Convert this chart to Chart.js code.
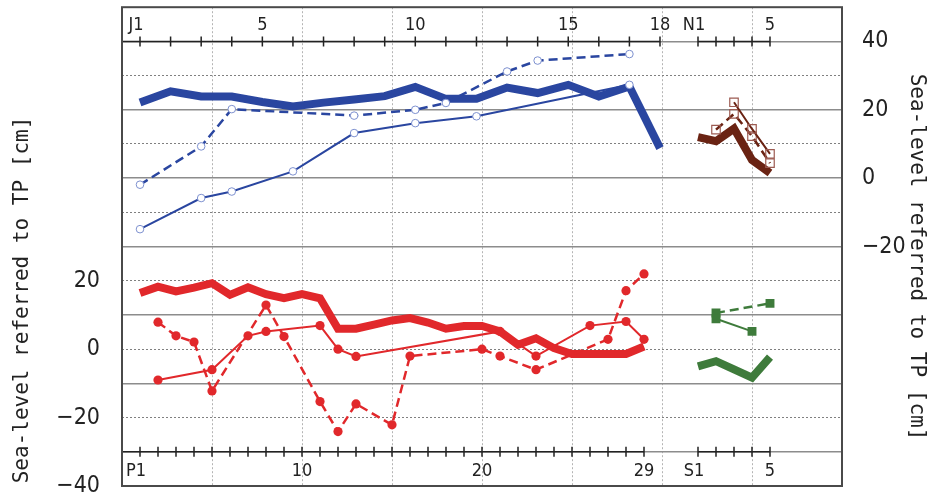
<!DOCTYPE html>
<html>
<head>
<meta charset="utf-8">
<script src="https://cdn.jsdelivr.net/npm/chart.js@4.4.0/dist/chart.umd.min.js"></script>
<style>
  html, body { margin: 0; padding: 0; background: #fff; }
</style>
</head>
<body>
<canvas id="seaChart" width="950" height="494"></canvas>
<script>
// upper panel: J stations (right axis)
const jDays = [1, 2, 3, 4, 5, 6, 7, 8, 9, 10, 11, 12, 13, 14, 15, 16, 17, 18];
const blueThick = [22.1, 25.4, 23.9, 23.9, 22.3, 21.0, 22.1, 23.0, 24.0, 26.7, 23.2, 23.2, 26.5, 24.9, 27.3, 23.9, 26.8, 8.8];
const blueDashDays = [1, 3, 4, 8, 10, 11, 13, 14, 17];
const blueDash = [-1.9, 9.3, 20.2, 18.3, 20.0, 22.0, 31.2, 34.4, 36.3];
const blueThinDays = [1, 3, 4, 6, 8, 10, 12, 17];
const blueThin = [-14.9, -5.8, -3.9, 2.0, 13.2, 16.1, 18.1, 27.3];

// upper panel: N stations (right axis)
const nDays = [1, 2, 3, 4, 5];
const brownThick = [12.0, 10.8, 14.5, 5.3, 1.5];
const brownThinDays = [3, 4, 5];
const brownThin = [22.2, 14.4, 7.1];
const brownDashDays = [2, 3, 4, 5];
const brownDash = [14.2, 18.8, 12.3, 4.4];

// lower panel: P stations (left axis)
const pDays = [1, 2, 3, 4, 5, 6, 7, 8, 9, 10, 11, 12, 13, 14, 15, 16, 17, 18, 19, 20, 21, 22, 23, 24, 25, 26, 27, 28, 29];
const redThick = [16.4, 18.3, 16.9, 18.0, 19.3, 15.9, 18.1, 16.1, 14.9, 16.1, 14.9, 6.0, 6.0, 7.2, 8.4, 9.1, 7.8, 6.0, 6.8, 6.8, 5.2, 1.3, 3.2, 0.3, -1.4, -1.4, -1.4, -1.4, 0.8];
const redThinDays = [2, 5, 7, 8, 11, 12, 13, 21, 23, 26, 28, 29];
const redThin = [-9.0, -6.0, 3.9, 5.2, 6.9, 0.0, -2.1, 5.2, -2.0, 6.9, 8.1, 2.9];
const redDashDays = [2, 3, 4, 5, 8, 9, 11, 12, 13, 15, 16, 20, 21, 23, 27, 28, 29];
const redDash = [7.9, 3.9, 2.1, -12.2, 12.9, 3.7, -15.3, -24.1, -16.0, -22.1, -2.0, 0.0, -2.0, -6.0, 2.9, 17.1, 22.0];

// lower panel: S stations (left axis)
const sDays = [1, 2, 3, 4, 5];
const greenThick = [-5.0, -3.5, -5.9, -8.3, -2.3];
const greenThinDays = [2, 4];
const greenThin = [8.9, 5.2];
const greenDashDays = [2, 5];
const greenDash = [10.6, 13.4];

// tick labels
const leftTicks = [20, 0, -20, -40];
const rightTicks = [40, 20, 0, -20];
const jLabelDays = [1, 5, 10, 15, 18];
const jLabels = ['J1', '5', '10', '15', '18'];
const nLabelDays = [1, 5];
const nLabels = ['N1', '5'];
const pLabelDays = [1, 10, 20, 29];
const pLabels = ['P1', '10', '20', '29'];
const sLabelDays = [1, 5];
const sLabels = ['S1', '5'];
const axisTitle = 'Sea-level referred to TP [cm]';

const BLUE = '#2a46a0', RED = '#e1282b', BROWN = '#6a2313', GREEN = '#3e7b3b';
const NARROW = "'Liberation Sans Narrow', 'Arial Narrow', 'DejaVu Sans Condensed', sans-serif";

const pts = (xs, ys) => xs.map((x, i) => ({ x: x, y: ys[i] }));
const minus = v => String(v).replace('-', '\u2212');

function series(xs, ys, xAxis, yAxis, color, kind, marker) {
  const ds = {
    data: pts(xs, ys),
    xAxisID: xAxis,
    yAxisID: yAxis,
    borderColor: color,
    backgroundColor: color,
    tension: 0,
    fill: false,
    order: 1,
    pointRadius: 0,
    pointHoverRadius: 0
  };
  if (kind === 'thick') {
    ds.borderWidth = 8;
    ds.order = 2;
  } else if (kind === 'dash') {
    ds.borderWidth = 2.5;
    ds.borderDash = [9, 5];
  } else {
    ds.borderWidth = 2;
  }
  if (marker === 'ocircle') {
    Object.assign(ds, { pointStyle: 'circle', pointRadius: 3.8, pointBorderWidth: 1, pointBorderColor: '#7d90cf', pointBackgroundColor: '#fff' });
  } else if (marker === 'dot') {
    Object.assign(ds, { pointStyle: 'circle', pointRadius: 4.6, pointBorderWidth: 0, pointBackgroundColor: color });
  } else if (marker === 'osquare') {
    Object.assign(ds, { pointStyle: 'rect', pointRadius: 6, pointBorderWidth: 1.2, pointBorderColor: '#9c5b52', pointBackgroundColor: 'rgba(255,255,255,0)' });
  } else if (marker === 'square') {
    Object.assign(ds, { pointStyle: 'rect', pointRadius: 6.3, pointBorderWidth: 0, pointBackgroundColor: color });
  }
  return ds;
}

function setTicks(values) {
  return scale => { scale.ticks = values.map(v => ({ value: v })); };
}

function fixWidth(w) {
  return scale => {
    scale.width = w;
    scale.paddingTop = 0;
    scale.paddingBottom = 0;
  };
}

// inner axes (J, N on top; P, S at bottom), frame and axis titles
const innerAxes = {
  id: 'innerAxes',
  beforeDatasetsDraw(chart) {
    const { ctx, chartArea, scales } = chart;
    const topY = scales.y.getPixelForValue(40);
    const botY = scales.y.getPixelForValue(-80);
    const draw = (xs, first, last, y, labelDays, labels, dy, fromEdge) => {
      ctx.save();
      ctx.strokeStyle = '#222';
      ctx.lineWidth = 1.5;
      ctx.beginPath();
      ctx.moveTo(fromEdge ? chartArea.left : xs.getPixelForValue(first), y);
      ctx.lineTo(xs.getPixelForValue(last), y);
      for (let d = first; d <= last; d++) {
        const x = xs.getPixelForValue(d);
        ctx.moveTo(x, y - 5);
        ctx.lineTo(x, y + 5);
      }
      ctx.stroke();
      ctx.fillStyle = '#222';
      ctx.font = '18px ' + NARROW;
      ctx.textAlign = 'center';
      ctx.textBaseline = 'middle';
      labelDays.forEach((d, i) => {
        ctx.fillText(labels[i], xs.getPixelForValue(d) - (i === 0 ? 4 : 0), y + dy);
      });
      ctx.restore();
    };
    draw(scales.xJ, 1, 18, topY, jLabelDays, jLabels, -16, true);
    draw(scales.xNS, 1, 5, topY, nLabelDays, nLabels, -16, false);
    draw(scales.xP, 1, 29, botY, pLabelDays, pLabels, 20, true);
    draw(scales.xNS, 1, 5, botY, sLabelDays, sLabels, 20, false);
  },
  afterDraw(chart) {
    const { ctx, chartArea } = chart;
    ctx.save();
    ctx.strokeStyle = '#4a4a4a';
    ctx.lineWidth = 2;
    ctx.strokeRect(chartArea.left, chartArea.top, chartArea.right - chartArea.left, chartArea.bottom - chartArea.top);
    ctx.fillStyle = '#222';
    ctx.font = "21px 'DejaVu Sans Mono', 'Liberation Mono', monospace";
    ctx.textAlign = 'center';
    ctx.textBaseline = 'middle';
    ctx.translate(23, 300);
    ctx.rotate(-Math.PI / 2);
    ctx.fillText(axisTitle, 0, 0);
    ctx.restore();
    ctx.save();
    ctx.fillStyle = '#222';
    ctx.font = "21px 'DejaVu Sans Mono', 'Liberation Mono', monospace";
    ctx.textAlign = 'center';
    ctx.textBaseline = 'middle';
    ctx.translate(916, 257);
    ctx.rotate(Math.PI / 2);
    ctx.fillText(axisTitle, 0, 0);
    ctx.restore();
  }
};

const hiddenX = (min, max) => ({ type: 'linear', display: false, min: min, max: max });

new Chart(document.getElementById('seaChart'), {
  type: 'line',
  data: {
    datasets: [
      series(jDays, blueThick, 'xJ', 'y', BLUE, 'thick', null),
      series(blueThinDays, blueThin, 'xJ', 'y', BLUE, 'thin', 'ocircle'),
      series(blueDashDays, blueDash, 'xJ', 'y', BLUE, 'dash', 'ocircle'),
      series(nDays, brownThick, 'xNS', 'y', BROWN, 'thick', null),
      series(brownThinDays, brownThin, 'xNS', 'y', BROWN, 'thin', 'osquare'),
      series(brownDashDays, brownDash, 'xNS', 'y', BROWN, 'dash', 'osquare'),
      series(pDays, redThick, 'xP', 'yL', RED, 'thick', null),
      series(redThinDays, redThin, 'xP', 'yL', RED, 'thin', 'dot'),
      series(redDashDays, redDash, 'xP', 'yL', RED, 'dash', 'dot'),
      series(sDays, greenThick, 'xNS', 'yL', GREEN, 'thick', null),
      series(greenThinDays, greenThin, 'xNS', 'yL', GREEN, 'thin', 'square'),
      series(greenDashDays, greenDash, 'xNS', 'yL', GREEN, 'dash', 'square')
    ]
  },
  options: {
    responsive: false,
    animation: false,
    layout: { padding: { top: 7, bottom: 8, left: 0, right: 0 } },
    plugins: { legend: { display: false }, tooltip: { enabled: false } },
    events: [],
    scales: {
      xJ: hiddenX(0.4115, 23.95),
      xP: hiddenX(0, 40),
      xNS: hiddenX(-31, 9),
      xg: {
        type: 'linear', position: 'bottom', min: 0, max: 8,
        afterBuildTicks: setTicks([1, 2, 3, 4, 5, 6, 7]),
        afterFit: s => { s.height = 0; s.paddingLeft = 0; s.paddingRight = 0; },
        ticks: { display: false },
        grid: { drawTicks: false, color: '#b4b4b4', lineWidth: 1, borderDash: [2, 2] },
        border: { display: false, dash: [2, 2] }
      },
      yDot: {
        type: 'linear', position: 'right', min: -90, max: 50,
        afterBuildTicks: setTicks([30, 10, -10, -30, -50, -70]),
        afterFit: fixWidth(0),
        ticks: { display: false },
        grid: { drawTicks: false, color: '#808080', lineWidth: 1, borderDash: [2, 2] },
        border: { display: false, dash: [2, 2] }
      },
      y: {
        type: 'linear', position: 'right', min: -90, max: 50,
        afterBuildTicks: setTicks([40, 20, 0, -20, -40, -60, -80]),
        afterFit: fixWidth(108),
        ticks: {
          padding: 20, color: '#222',
          font: { family: NARROW, size: 23 },
          callback: v => rightTicks.includes(v) ? minus(v) : ''
        },
        grid: { drawTicks: false, color: '#8c8c8c', lineWidth: 1.5 },
        border: { display: false }
      },
      yL: {
        type: 'linear', position: 'left', min: -40, max: 100,
        afterBuildTicks: setTicks(leftTicks),
        afterFit: fixWidth(122),
        ticks: {
          padding: 22, color: '#222',
          font: { family: NARROW, size: 23 },
          callback: v => minus(v)
        },
        grid: { drawTicks: false, drawOnChartArea: false },
        border: { display: false }
      }
    }
  },
  plugins: [innerAxes]
});
</script>
</body>
</html>
